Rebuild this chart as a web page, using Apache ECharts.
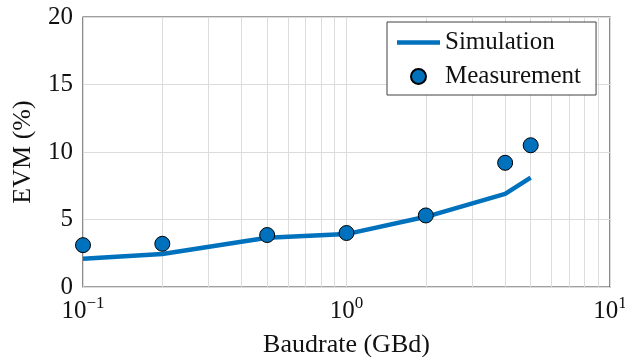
<!DOCTYPE html>
<html>
<head>
<meta charset="utf-8">
<script src="https://cdn.jsdelivr.net/npm/echarts@6/dist/echarts.min.js"></script>
<style>
html,body{margin:0;padding:0;background:#fff;}
#chart{width:625px;height:357px;}
</style>
</head>
<body>
<div id="chart"></div>
<script>
var baudrate = [0.1, 0.2, 0.5, 1, 2, 4, 5];
var simulation = [2.1, 2.45, 3.65, 3.92, 5.2, 6.9, 8.1];
var measurement = [3.1, 3.2, 3.85, 4.0, 5.3, 9.2, 10.5];
var minorX = [0.2,0.3,0.4,0.5,0.6,0.7,0.8,0.9,2,3,4,5,6,7,8,9];
var yTicks = [0, 5, 10, 15, 20];

var FONT = 'Liberation Serif';
var BLUE = '#0072BD';
var chart = echarts.init(document.getElementById('chart'));
chart.setOption({
  animation: false,
  backgroundColor: '#fff',
  textStyle: {fontFamily: FONT},
  grid: {left: 83, right: 15, top: 17, bottom: 70, outerBoundsMode: 'none', containLabel: false,
         show: true, borderColor: '#404040', borderWidth: 1.2, backgroundColor: 'transparent'},
  xAxis: {
    type: 'log', logBase: 10, min: 0.1, max: 10,
    name: 'Baudrate (GBd)', nameLocation: 'middle', nameGap: 45,
    nameTextStyle: {fontFamily: FONT, fontSize: 26, color: '#111'},
    axisLine: {show: false}, axisTick: {show: false},
    splitLine: {show: true, lineStyle: {color: '#dcdcdc', width: 1}},
    axisLabel: {
      margin: 8,
      formatter: function (v) {
        var e = Math.round(Math.log10(v));
        var s = e < 0 ? '\u2212' + (-e) : String(e);
        return '{b|10}{s|' + s + '}';
      },
      rich: {
        b: {fontFamily: FONT, fontSize: 25, color: '#111'},
        s: {fontFamily: FONT, fontSize: 17, color: '#111', padding: [0, 0, 16, 0]}
      }
    }
  },
  yAxis: {
    type: 'value', min: yTicks[0], max: yTicks[yTicks.length - 1], interval: 5,
    name: 'EVM (%)', nameLocation: 'middle', nameGap: 47,
    nameTextStyle: {fontFamily: FONT, fontSize: 26, color: '#111'},
    axisLine: {show: false}, axisTick: {show: false},
    splitLine: {show: true, lineStyle: {color: '#dcdcdc', width: 1}},
    axisLabel: {margin: 10, fontFamily: FONT, fontSize: 25, color: '#111'}
  },
  legend: {
    z: 20,
    data: [
      {name: 'Simulation', icon: 'path://M0 0H100V10H0Z'},
      {name: 'Measurement', icon: 'circle'}
    ],
    orient: 'vertical', left: 387, top: 22,
    backgroundColor: '#fff', borderColor: '#404040', borderWidth: 1,
    padding: [8, 15, 6, 10], itemGap: 9,
    itemWidth: 43, itemHeight: 15, symbolKeepAspect: true,
    textStyle: {fontFamily: FONT, fontSize: 25, color: '#111'}
  },
  series: [
    {
      name: 'grid-minor', type: 'line', data: [], z: 1, silent: true,
      markLine: {
        z: 1,
        silent: true, symbol: 'none', animation: false,
        label: {show: false},
        lineStyle: {color: '#dcdcdc', width: 1, type: 'solid'},
        emphasis: {disabled: true},
        data: minorX.map(function (v) { return {xAxis: v}; })
      }
    },
    {
      name: 'Simulation', type: 'line', z: 3,
      data: baudrate.map(function (x, i) { return [x, simulation[i]]; }),
      symbol: 'none', showSymbol: false,
      lineStyle: {color: BLUE, width: 4.5},
      itemStyle: {color: BLUE}
    },
    {
      name: 'Measurement', type: 'scatter', z: 4,
      data: baudrate.map(function (x, i) { return [x, measurement[i]]; }),
      symbol: 'circle', symbolSize: 15,
      itemStyle: {color: BLUE, borderColor: '#000', borderWidth: 1, opacity: 1}
    }
  ]
});
</script>
</body>
</html>
